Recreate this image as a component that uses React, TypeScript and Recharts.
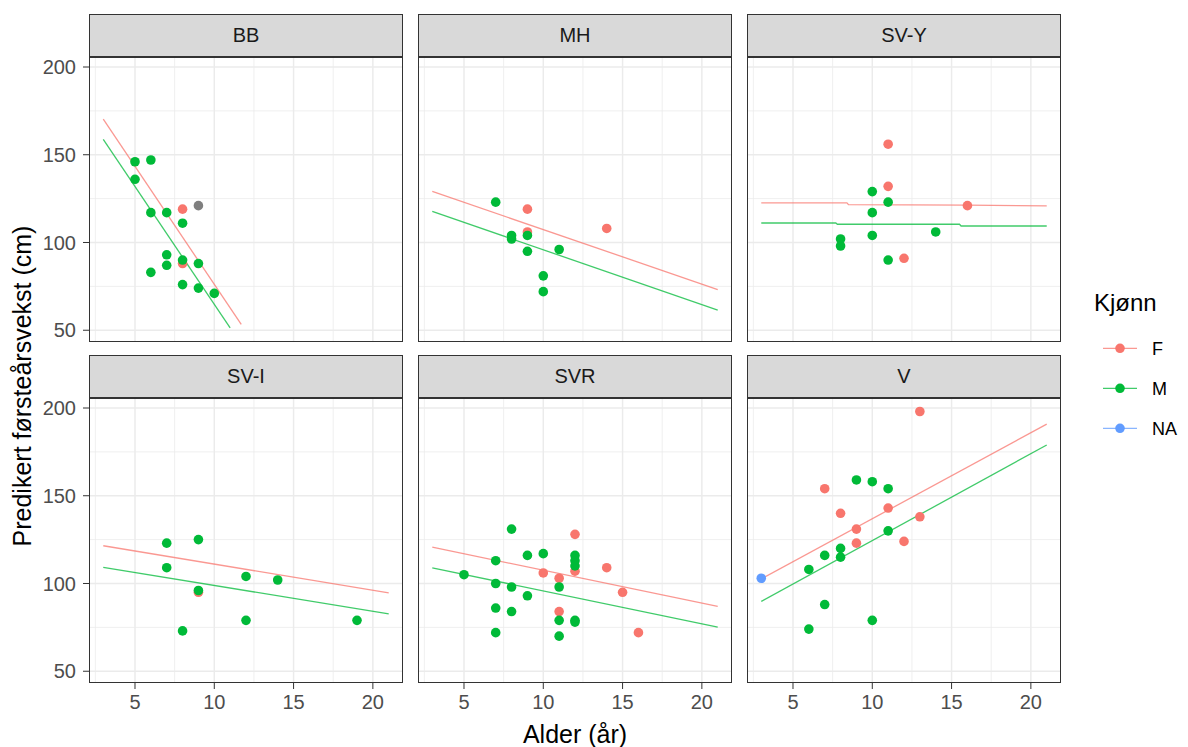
import React from 'react';
import { ComposedChart, Scatter, XAxis, YAxis, ReferenceLine } from 'recharts';

type Pt = [number, number];

const xTicks = [5, 10, 15, 20];
const yTicks = [50, 100, 150, 200];
const xMinor = [2.5, 7.5, 12.5, 17.5];
const yMinor = [75, 125, 175];
const xDomain: [number, number] = [2.1, 21.9];
const yDomain: [number, number] = [43.3, 205.7];

const legendTitle = 'Kjønn';
const legendLabels = ['F', 'M', 'NA'];
const xTitle = 'Alder (år)';
const yTitle = 'Predikert førsteårsvekst (cm)';

// BB
const bbF: Pt[] = [[8, 119], [8, 88]];
const bbM: Pt[] = [[5, 146], [6, 147], [5, 136], [6, 117], [7, 117], [8, 111], [7, 93], [7, 87], [8, 90], [9, 88], [6, 83], [8, 76], [9, 74], [10, 71]];
const bbMissing: Pt[] = [[9, 121]];
const bbFitF: Pt[] = [[3, 170.3], [11.7, 53.3]];
const bbFitM: Pt[] = [[3, 158.7], [11, 51.4]];

// MH
const mhF: Pt[] = [[9, 119], [9, 106], [14, 108]];
const mhM: Pt[] = [[7, 123], [8, 104], [8, 102], [9, 104], [9, 95], [11, 96], [10, 81], [10, 72]];
const mhFitF: Pt[] = [[3, 129.1], [21, 73.2]];
const mhFitM: Pt[] = [[3, 117.7], [21, 61.5]];

// SV-Y
const svyF: Pt[] = [[11, 156], [11, 132], [16, 121], [12, 91]];
const svyM: Pt[] = [[10, 129], [11, 123], [10, 117], [10, 104], [14, 106], [8, 102], [8, 98], [11, 90]];
const svyFitF: Pt[] = [[3, 122.6], [8.4, 122.6], [8.5, 121.6], [16, 121.3], [21, 120.9]];
const svyFitM: Pt[] = [[3, 111.1], [7.7, 111.1], [7.8, 110.4], [15.5, 110.4], [15.6, 109.4], [21, 109.4]];

// SV-I
const sviF: Pt[] = [[9, 95]];
const sviM: Pt[] = [[7, 123], [9, 125], [7, 109], [12, 104], [14, 102], [9, 96], [12, 79], [8, 73], [19, 79]];
const sviFitF: Pt[] = [[3, 121.5], [21, 94.6]];
const sviFitM: Pt[] = [[3, 109.2], [21, 82.7]];

// SVR
const svrF: Pt[] = [[12, 128], [12, 107], [14, 109], [10, 106], [11, 103], [15, 95], [11, 84], [16, 72]];
const svrM: Pt[] = [[8, 131], [9, 116], [10, 117], [12, 116], [12, 113], [12, 110], [7, 113], [5, 105], [7, 100], [8, 98], [11, 98], [9, 93], [7, 86], [8, 84], [11, 79], [12, 79], [12, 78], [7, 72], [11, 70]];
const svrFitF: Pt[] = [[3, 120.7], [21, 86.9]];
const svrFitM: Pt[] = [[3, 108.9], [21, 75.2]];

// V
const vF: Pt[] = [[13, 198], [7, 154], [11, 143], [8, 140], [9, 131], [13, 138], [9, 123], [12, 124]];
const vM: Pt[] = [[9, 159], [10, 158], [11, 154], [11, 130], [8, 120], [8, 115], [7, 116], [6, 108], [7, 88], [10, 79], [6, 74]];
const vNA: Pt[] = [[3, 103]];
const vFitF: Pt[] = [[3, 102.6], [21, 190.8]];
const vFitM: Pt[] = [[3, 89.8], [21, 178.9]];

const COLORS = { F: '#F8766D', M: '#00BA38', NA: '#619CFF', missing: '#7F7F7F' };
const FONT = '"Liberation Sans", Arial, sans-serif';

const COL_LEFT = [89, 418, 747];
const ROW_TOP = [57, 398];
const PW = 314;
const PH = 285;
const STRIP_H = 43;
const YW = 60;
const XH = 40;

const toXY = (a: Pt[]) => a.map(([x, y]) => ({ x, y }));

interface PanelData {
  name: string;
  F: Pt[];
  M: Pt[];
  NA: Pt[];
  missing: Pt[];
  fitF: Pt[];
  fitM: Pt[];
}

const panels: PanelData[] = [
  { name: 'BB', F: bbF, M: bbM, NA: [], missing: bbMissing, fitF: bbFitF, fitM: bbFitM },
  { name: 'MH', F: mhF, M: mhM, NA: [], missing: [], fitF: mhFitF, fitM: mhFitM },
  { name: 'SV-Y', F: svyF, M: svyM, NA: [], missing: [], fitF: svyFitF, fitM: svyFitM },
  { name: 'SV-I', F: sviF, M: sviM, NA: [], missing: [], fitF: sviFitF, fitM: sviFitM },
  { name: 'SVR', F: svrF, M: svrM, NA: [], missing: [], fitF: svrFitF, fitM: svrFitM },
  { name: 'V', F: vF, M: vM, NA: vNA, missing: [], fitF: vFitF, fitM: vFitM },
];

const dot = (fill: string) => (props: any) => (
  <circle cx={props.cx} cy={props.cy} r={4.8} fill={fill} />
);

const tickStyle = { fill: '#4D4D4D', fontSize: 20, fontFamily: FONT };

function Panel({ p, idx }: { p: PanelData; idx: number }) {
  const col = idx % 3;
  const row = Math.floor(idx / 3);
  const showY = col === 0;
  const showX = row === 1;
  const yw = showY ? YW : 0;
  const xh = showX ? XH : 0;
  const left = COL_LEFT[col];
  const top = ROW_TOP[row];
  const fitLine = (c: string) => ({ stroke: c, strokeWidth: 1.3, strokeOpacity: 0.75 });

  return (
    <>
      <div
        style={{
          position: 'absolute', left, top: top - STRIP_H, width: PW, height: STRIP_H,
          boxSizing: 'border-box', border: '1px solid #333333', background: '#D9D9D9',
          display: 'flex', alignItems: 'center', justifyContent: 'center',
          fontFamily: FONT, fontSize: 20, color: '#1A1A1A',
        }}
      >
        {p.name}
      </div>
      <div style={{ position: 'absolute', left: left - yw, top }}>
        <ComposedChart width={PW + yw} height={PH + xh} margin={{ top: 0, right: 0, bottom: 0, left: 0 }}>
          <XAxis
            type="number" dataKey="x" domain={xDomain} ticks={xTicks} allowDataOverflow
            hide={!showX} height={XH} axisLine={false} tickSize={6} tickMargin={6}
            tickLine={{ stroke: '#333333' }} tick={tickStyle} interval={0}
          />
          <YAxis
            type="number" dataKey="y" domain={yDomain} ticks={yTicks} allowDataOverflow
            hide={!showY} width={YW} axisLine={false} tickSize={6} tickMargin={7}
            tickLine={{ stroke: '#333333' }} tick={tickStyle} interval={0}
          />
          {xMinor.map(v => <ReferenceLine key={'xm' + v} x={v} stroke="#EBEBEB" strokeWidth={0.8} />)}
          {yMinor.map(v => <ReferenceLine key={'ym' + v} y={v} stroke="#EBEBEB" strokeWidth={0.8} />)}
          {xTicks.map(v => <ReferenceLine key={'xM' + v} x={v} stroke="#EBEBEB" strokeWidth={1.5} />)}
          {yTicks.map(v => <ReferenceLine key={'yM' + v} y={v} stroke="#EBEBEB" strokeWidth={1.5} />)}
          <Scatter data={toXY(p.fitF)} line={fitLine(COLORS.F)} lineType="joint" shape={() => null} isAnimationActive={false} />
          <Scatter data={toXY(p.fitM)} line={fitLine(COLORS.M)} lineType="joint" shape={() => null} isAnimationActive={false} />
          <Scatter data={toXY(p.F)} shape={dot(COLORS.F)} isAnimationActive={false} />
          <Scatter data={toXY(p.M)} shape={dot(COLORS.M)} isAnimationActive={false} />
          <Scatter data={toXY(p.NA)} shape={dot(COLORS.NA)} isAnimationActive={false} />
          <Scatter data={toXY(p.missing)} shape={dot(COLORS.missing)} isAnimationActive={false} />
        </ComposedChart>
      </div>
      <div
        style={{
          position: 'absolute', left, top, width: PW, height: PH,
          boxSizing: 'border-box', border: '1px solid #333333', pointerEvents: 'none',
        }}
      />
    </>
  );
}

export default function App() {
  const legendColors = [COLORS.F, COLORS.M, COLORS.NA];
  return (
    <div style={{ position: 'absolute', left: 0, top: 0, width: 1188, height: 747, background: '#fff', overflow: 'hidden' }}>
      <svg width={1188} height={747} style={{ position: 'absolute', left: 0, top: 0 }}>
        <text
          transform="translate(31, 386) rotate(-90)" textAnchor="middle"
          fontFamily={FONT} fontSize={25} fill="#000"
        >
          {yTitle}
        </text>
        <text x={575} y={743} textAnchor="middle" fontFamily={FONT} fontSize={25} fill="#000">
          {xTitle}
        </text>
        <text x={1094} y={311} fontFamily={FONT} fontSize={24} fill="#000">
          {legendTitle}
        </text>
        {legendLabels.map((lab, i) => {
          const y = 348.3 + i * 40;
          return (
            <g key={lab}>
              <line x1={1103} x2={1137} y1={y} y2={y} stroke={legendColors[i]} strokeWidth={1.3} strokeOpacity={0.75} />
              <circle cx={1120} cy={y} r={4.8} fill={legendColors[i]} />
              <text x={1152} y={y + 6.5} fontFamily={FONT} fontSize={18} fill="#000">{lab}</text>
            </g>
          );
        })}
      </svg>
      {panels.map((p, i) => <Panel key={p.name} p={p} idx={i} />)}
    </div>
  );
}
